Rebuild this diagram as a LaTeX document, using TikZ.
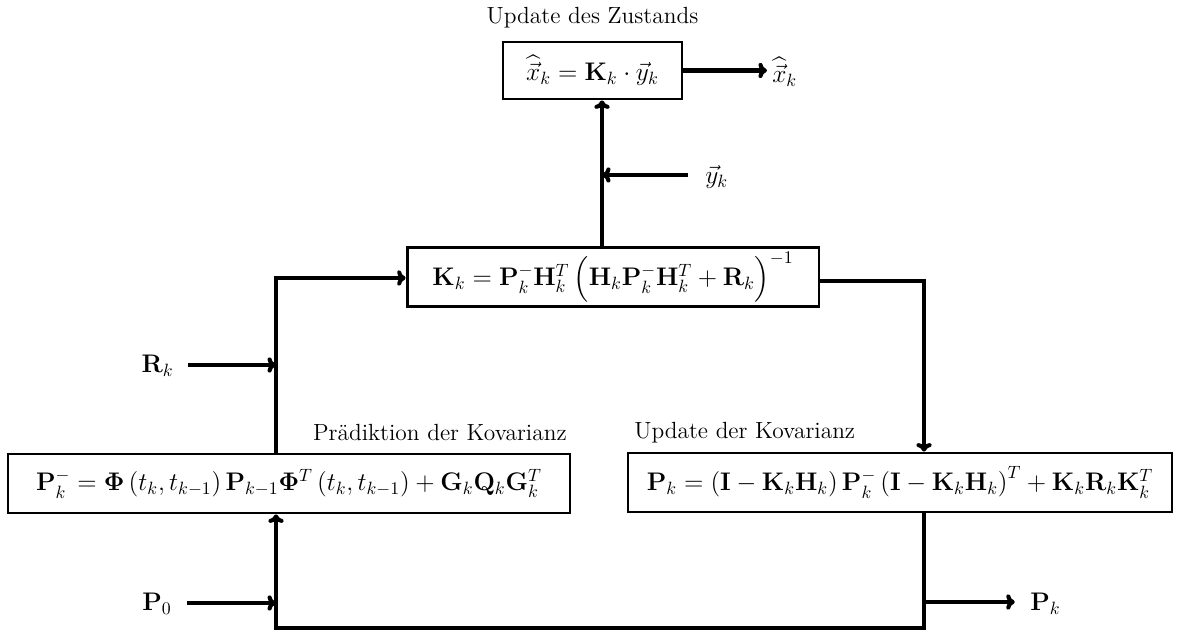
\RequirePackage{fix-cm}
\documentclass[tikz,border=0pt]{standalone}
\usepackage{amsmath}
\usepackage{amssymb}
\usepackage{bm}
\usetikzlibrary{arrows.meta}

\newcommand{\formelfont}{\fontsize{15}{18}\selectfont}
\newcommand{\titelfont}{\fontsize{13.8}{16}\selectfont}

\begin{document}
\begin{tikzpicture}[x=0.59pt,y=-0.59pt,
        box/.style={draw,line width=1.7pt,inner sep=0pt,minimum height=34.8pt,font=\formelfont},
        sig/.style={inner sep=0pt,font=\formelfont},
        titel/.style={inner sep=0pt,font=\titelfont},
        flow/.style={line width=2.4pt,-{To[length=5pt,width=9pt]}}]
        \useasboundingbox (0,0) rectangle (1186,632);

        % Knotenpunkte
        \coordinate (Z) at (592.5,70.5);
        \coordinate (K) at (613,277);
        \coordinate (Phi) at (289,483.5);
        \coordinate (P) at (900,482.5);
        \coordinate (jy) at (602,175);
        \coordinate (jl) at (276,278);
        \coordinate (jr) at (924,281);
        \coordinate (jR) at (276,365);
        \coordinate (jP) at (276,603);
        \coordinate (jo) at (924,602);
        \coordinate (jb) at (924,628);
        \coordinate (ja) at (276,628);

        \node[box,minimum width=105.6pt,minimum height=33.6pt] (zust) at (Z) {$\widehat{\vec{x}}_k = \mathbf{K}_k \cdot \vec{y}_k$};
        \node[box,minimum width=243pt] (gain) at (K) {$\mathbf{K}_k = \mathbf{P}_k^-\mathbf{H}_k^T\,\Bigl(\mathbf{H}_k\mathbf{P}_k^-\mathbf{H}_k^T+\mathbf{R}_k\Bigr)^{-1}$};
        \node[box,minimum width=331.6pt] (prae) at (Phi) {$\mathbf{P}_k^- = \bm{\Phi}\left(t_k,t_{k-1}\right)\mathbf{P}_{k-1}\bm{\Phi}^T\left(t_k,t_{k-1}\right)+\mathbf{G}_k\mathbf{Q}_k\mathbf{G}_k^T$};
        \node[box,minimum width=321pt] (kov) at (P) {$\mathbf{P}_k = \left(\mathbf{I}-\mathbf{K}_k\mathbf{H}_k\right)\mathbf{P}_k^-\left(\mathbf{I}-\mathbf{K}_k\mathbf{H}_k\right)^T+\mathbf{K}_k\mathbf{R}_k\mathbf{K}_k^T$};

        \node[titel] (tz) at (592.5,18) {Update des Zustands};
        \node[titel,anchor=east] (tp) at (567,433) {Pr\"adiktion der Kovarianz};
        \node[titel,anchor=west] (tk) at (634,433) {Update der Kovarianz};

        \node[sig,anchor=west] (xout) at (772,72) {$\widehat{\vec{x}}_k$};
        \node[sig,anchor=west] (yin) at (705,177) {$\vec{y}_k$};
        \node[sig,anchor=east] (rin) at (174,366) {$\mathbf{R}_k$};
        \node[sig,anchor=east] (pin) at (172,604) {$\mathbf{P}_0$};
        \node[sig,anchor=west] (pout) at (1030,604) {$\mathbf{P}_k$};

        % Verbindungen
        \draw[flow,shorten >=3pt] (zust.east) -- (xout.west |- zust.east);
        \draw[flow] (gain.north -| jy) -- (zust.south -| jy);
        \draw[flow,shorten <=10pt] (yin.west |- jy) -- (jy);
        \draw[flow] (prae.north -| jl) -- (jl) -- (gain.west |- jl);
        \draw[flow,shorten <=8pt] (rin.east |- jR) -- (jR);
        \draw[flow] (gain.east |- jr) -- (jr) -- (kov.north -| jr);
        \draw[flow] (kov.south -| jb) -- (jb) -- (ja) -- (prae.south -| ja);
        \draw[flow,shorten <=9pt] (pin.east |- jP) -- (jP);
        \draw[flow,shorten >=9pt] (jo) -- (pout.west |- jo);
    \end{tikzpicture}
\end{document}
